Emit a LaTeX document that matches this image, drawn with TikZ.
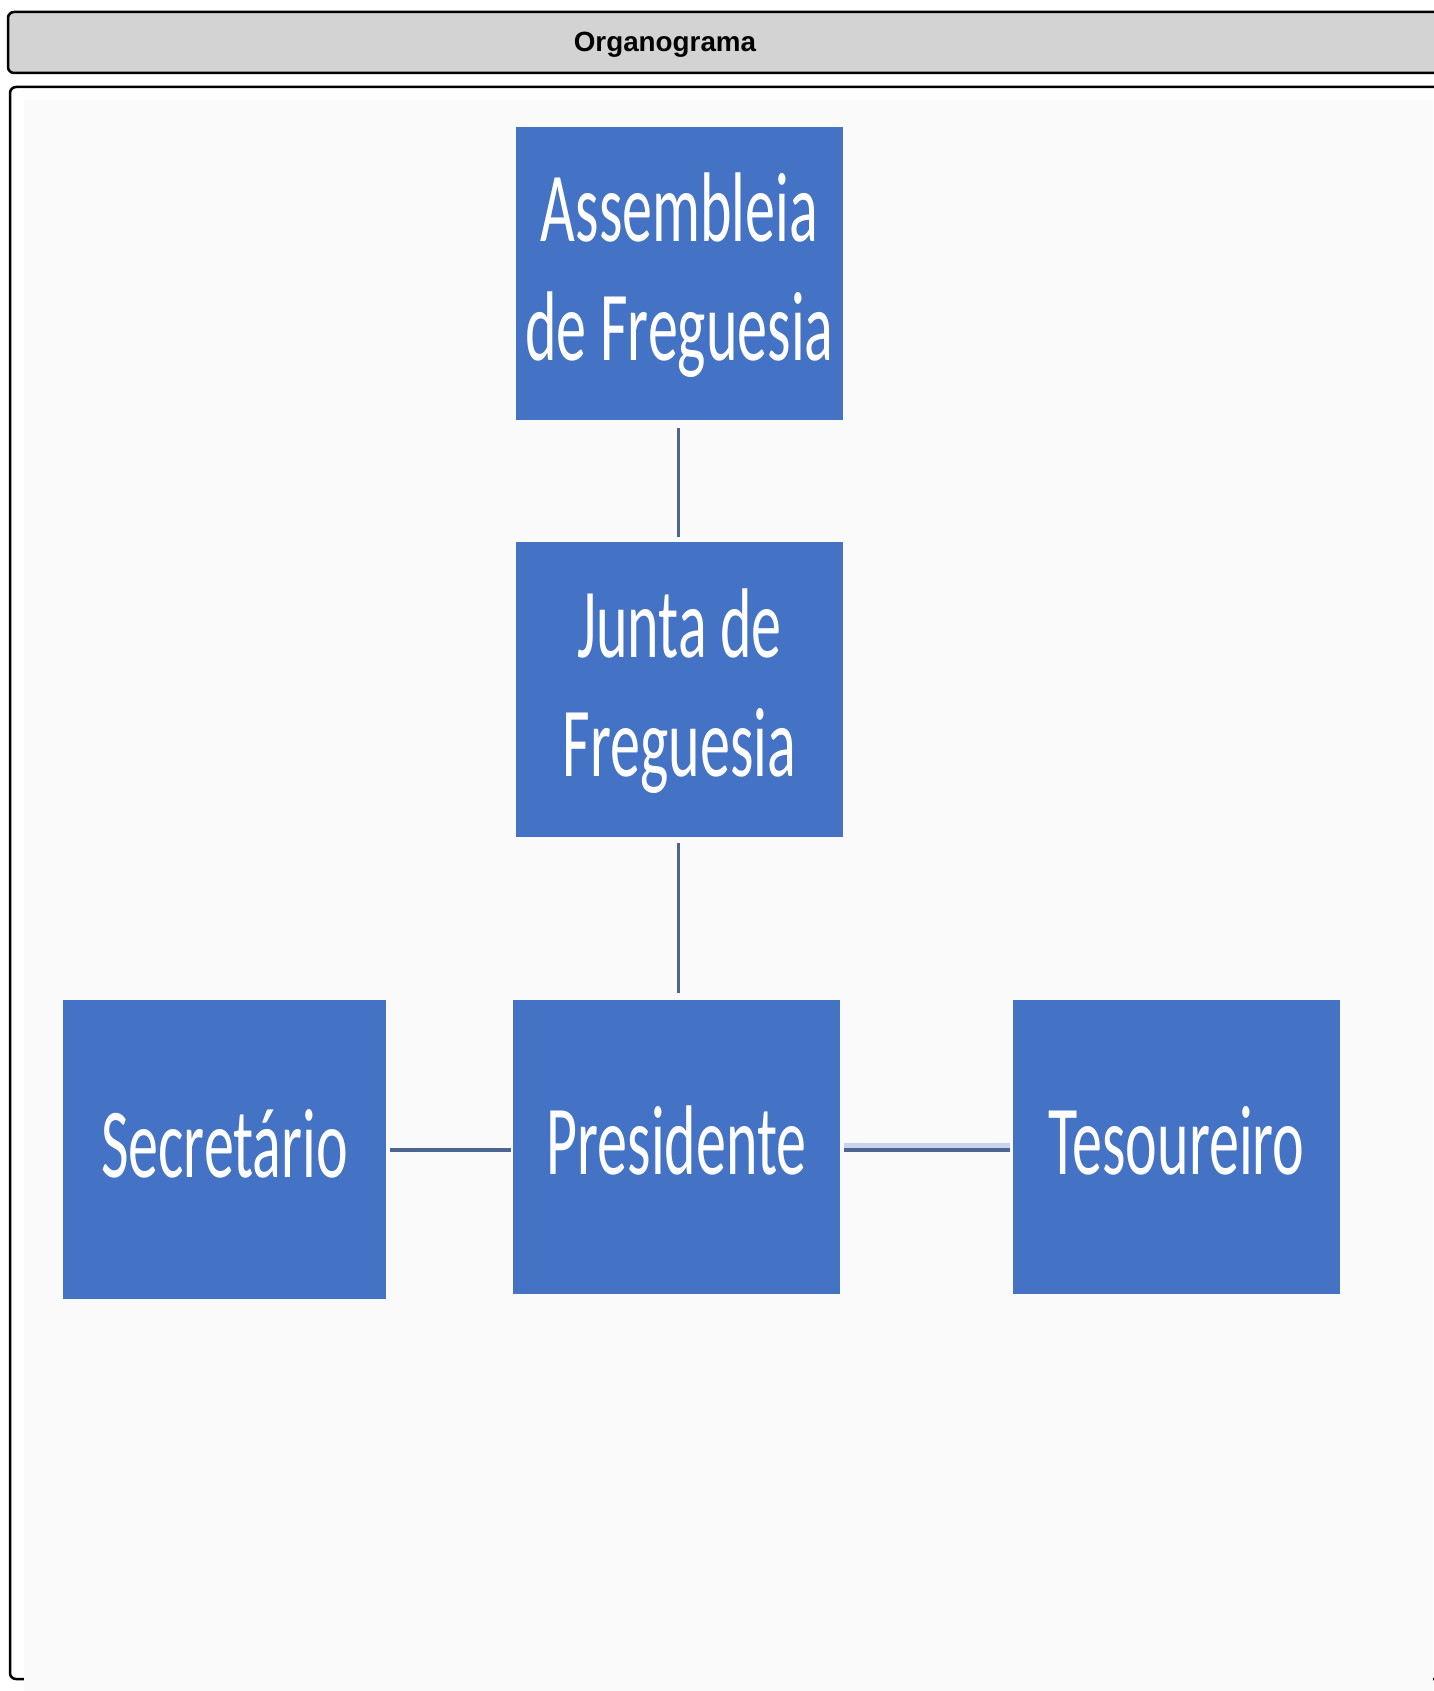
\documentclass[tikz,border=0pt]{standalone}
\usepackage{fontspec}
\usepackage{graphicx}
\newfontfamily\boxfont{Carlito}
\newfontfamily\titlefont{Liberation Sans}
\definecolor{boxblue}{HTML}{4472C4}
\definecolor{connblue}{HTML}{4E6592}
\definecolor{connlight}{HTML}{C5D5EE}
\definecolor{headgray}{HTML}{D3D3D3}
\definecolor{panelbg}{HTML}{FBFAFB}
\newcommand\tallbox[1]{\raisebox{-3.5pt}[\height][\depth]{\scalebox{1}[1.65]{\begin{tabular}{@{}c@{}}#1\end{tabular}}}}
\begin{document}
\begin{tikzpicture}[x=1pt,y=-1pt,
  box/.style={fill=boxblue, draw=none, inner sep=0pt, text=white,
    font=\boxfont\fontsize{60}{72.7}\selectfont},
  conn/.style={draw=connblue, line width=3pt},
  hconn/.style={draw=connblue, line width=4pt},
  frame/.style={draw=black, line width=2.5pt, rounded corners=6pt}]
\useasboundingbox (0,0) rectangle (1433,1691);
\fill[white] (0,0) rectangle (1433,1691);
% header
\draw[frame, fill=headgray] (8,12) rectangle (1450,73);
\node[font=\titlefont\bfseries\fontsize{27.8}{33}\selectfont] (title) at (665,45) {Organograma};
% panel
\draw[frame, fill=white] (10,87) rectangle (1450,1679);
\fill[panelbg] (24,100) rectangle (1433,1691);
% boxes
\node[box, minimum width=327pt, minimum height=293pt] (a) at (679.5,273.5) {\tallbox{Assembleia\\de Freguesia}};
\node[box, minimum width=327pt, minimum height=295pt] (j) at (679.5,689.5) {\tallbox{Junta de\\Freguesia}};
\node[box, minimum width=327pt, minimum height=294pt] (p) at (676.5,1147) {\tallbox{Presidente}};
\node[box, minimum width=323pt, minimum height=299pt] (s) at (224.5,1149.5) {\tallbox{Secretário}};
\node[box, minimum width=327pt, minimum height=294pt] (t) at (1176.5,1147) {\tallbox{Tesoureiro}};
% connectors
\draw[conn] ([xshift=-1.5pt,yshift=-8pt]a.south) -- ([xshift=-1.5pt,yshift=5pt]j.north);
\draw[conn] ([xshift=-1.5pt,yshift=-6pt]j.south) -- ([xshift=1.5pt,yshift=7pt]p.north);
\draw[hconn] ([xshift=4pt]s.east) -- ([xshift=-2pt]s.east -| p.west);
\draw[connlight, line width=5pt] ([xshift=4pt,yshift=1.5pt]p.east) -- ([xshift=-3pt,yshift=1.5pt]p.east -| t.west);
\draw[hconn] ([xshift=4pt,yshift=-3pt]p.east) -- ([xshift=-3pt,yshift=-3pt]p.east -| t.west);
\end{tikzpicture}
\end{document}
